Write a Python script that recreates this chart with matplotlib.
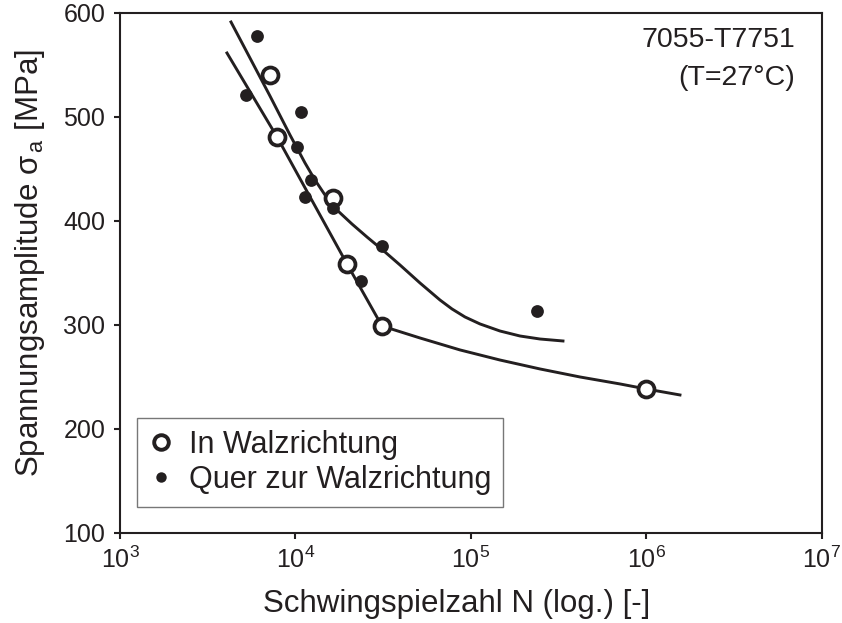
import matplotlib
matplotlib.use("Agg")
import matplotlib.pyplot as plt
from matplotlib.lines import Line2D
from matplotlib.ticker import FixedLocator, NullLocator

plt.rcParams['font.family'] = ['Liberation Sans', 'DejaVu Sans']
plt.rcParams['mathtext.fontset'] = 'custom'
plt.rcParams['mathtext.rm'] = 'Liberation Sans'
plt.rcParams['mathtext.it'] = 'Liberation Sans:italic'
plt.rcParams['mathtext.bf'] = 'Liberation Sans:bold'

ink = '#231f20'

# Versuchspunkte in Walzrichtung (offene Kreise)
walz_n = [7160, 7850, 16400, 19600, 31100, 1.0e6]
walz_s = [540, 481, 422, 359, 299, 238]

# Versuchspunkte quer zur Walzrichtung (gefuellte Punkte)
quer_n = [6040, 5220, 10700, 10200, 12250, 11300, 16400, 31100, 23600, 237600]
quer_s = [578, 521, 505, 471, 439, 423, 412, 376, 342, 313]

fit_walz_n = [4070, 7850, 12420, 19650, 31110, 51210, 86580, 146300, 247400,
              417900, 706300, 993600, 1552000]
fit_walz_s = [561.5, 480.8, 419.7, 358.7, 299.0, 287.5, 276.0, 266.3, 257.7,
              250.0, 243.3, 238.5, 232.7]

fit_quer_n = [4291, 5504, 7155, 9305, 11330, 12915, 14730, 17470, 20980, 25550,
              32360, 39390, 51210, 66600, 77950, 92430, 112500, 146300, 190200,
              247400, 334400]
fit_quer_s = [591.3, 556.7, 520.2, 482.7, 455.8, 439.4, 425.0, 409.6, 397.1, 384.6,
              370.2, 357.7, 340.4, 324.0, 315.4, 307.7, 301.0, 294.2, 289.4,
              286.5, 284.6]

x_ticks = [1e3, 1e4, 1e5, 1e6, 1e7]
y_ticks = [100, 200, 300, 400, 500, 600]

fig = plt.figure(figsize=(8.42, 6.23), dpi=100)
ax = fig.add_axes([0.1425, 0.1445, 0.8337, 0.8347])

ax.plot(fit_walz_n, fit_walz_s, color=ink, lw=2.1, solid_joinstyle='round')
ax.plot(fit_quer_n, fit_quer_s, color=ink, lw=2.1, solid_joinstyle='round')

ax.plot(walz_n, walz_s, 'o', ms=11.5, mfc='white', mec=ink, mew=2.7, zorder=4)
ax.plot(quer_n, quer_s, 'o', ms=9.2, mfc=ink, mec=ink, mew=0, zorder=5)

ax.set_xscale('log')
ax.set_xlim(1e3, 1e7)
ax.set_ylim(100, 600)
ax.xaxis.set_major_locator(FixedLocator(x_ticks))
ax.xaxis.set_minor_locator(NullLocator())
ax.yaxis.set_major_locator(FixedLocator(y_ticks))

for sp in ax.spines.values():
    sp.set_linewidth(1.5)
    sp.set_color(ink)

ax.tick_params(axis='both', which='major', direction='out', length=4.5, width=1.5,
               color=ink, labelcolor=ink, labelsize=18, top=False, right=False)
ax.tick_params(axis='x', pad=5)
ax.tick_params(axis='y', pad=6)

ax.set_xlabel('Schwingspielzahl N (log.) [-]', fontsize=22.5, color=ink)
ax.xaxis.set_label_coords(0.48, -0.108)
ax.set_ylabel('Spannungsamplitude σ$_{\\,\\mathrm{a}}$ [MPa]', fontsize=22.5, color=ink)
ax.yaxis.set_label_coords(-0.104, 0.52)

ax.text(0.9615, 0.973, '7055-T7751\n(T=27°C)', transform=ax.transAxes,
        ha='right', va='top', multialignment='right', fontsize=20.5,
        color=ink, linespacing=1.58)

handles = [
    Line2D([], [], ls='none', marker='o', ms=10.5, mfc='white', mec=ink, mew=2.8),
    Line2D([], [], ls='none', marker='o', ms=7.5, mfc=ink, mec=ink, mew=0),
]
leg = ax.legend(handles, ['In Walzrichtung', 'Quer zur Walzrichtung'],
                loc='lower left', bbox_to_anchor=(0.024, 0.05), borderaxespad=0,
                fontsize=22, frameon=True, fancybox=False, handlelength=0.8,
                handletextpad=0.5, labelspacing=0.15, borderpad=0.4)
leg.get_frame().set_edgecolor('#555555')
leg.get_frame().set_linewidth(1.0)
for t in leg.get_texts():
    t.set_color(ink)

fig.savefig('out.png', dpi=100)
